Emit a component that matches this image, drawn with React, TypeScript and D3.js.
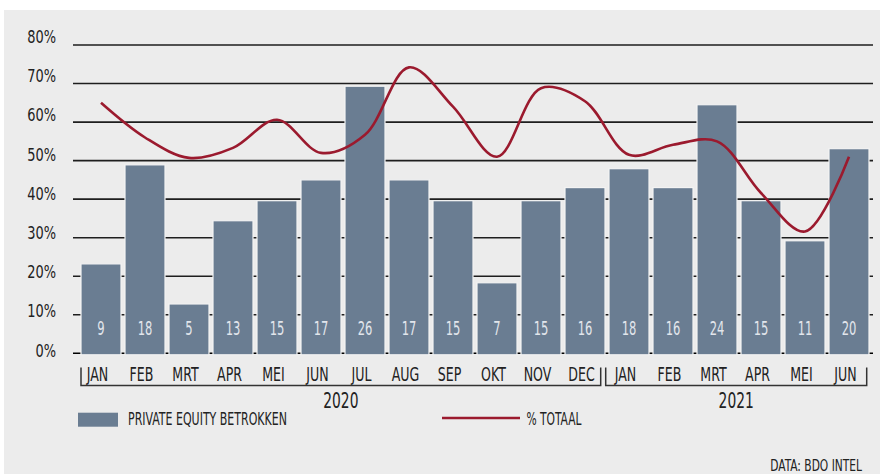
import React from "react";
import * as d3 from "d3";

const months = ["JAN","FEB","MRT","APR","MEI","JUN","JUL","AUG","SEP","OKT","NOV","DEC","JAN","FEB","MRT","APR","MEI","JUN"];
const barPct = [23.2, 48.9, 12.8, 34.4, 39.6, 45, 69.3, 45, 39.6, 18.3, 39.6, 43, 47.9, 43, 64.5, 39.6, 29.2, 53.1];
const counts = [9, 18, 5, 13, 15, 17, 26, 17, 15, 7, 15, 16, 18, 16, 24, 15, 11, 20];
const totalPct = [65, 56, 50.7, 53.3, 60.6, 52, 56.7, 74.2, 64, 51, 68.8, 65.4, 51.5, 54.1, 55, 41.6, 31.6, 51];
const yTicks = [0, 10, 20, 30, 40, 50, 60, 70, 80];
const yearLabels = ["2020", "2021"];
const yearFrom = [0, 12];
const yearTo = [11, 17];
const legendBar = "PRIVATE EQUITY BETROKKEN";
const legendLine = "% TOTAAL";
const source = "DATA: BDO INTEL";

const W = 880, H = 474;
const BAR = "#6a7d92";
const LINE = "#9b1a2e";
const TXT = "#222";
const FONT = "'Liberation Sans Narrow', 'DejaVu Sans Condensed', 'Liberation Sans', sans-serif";

function T({ x, y, size, anchor = "middle", sx = 0.78, fill = TXT, children }: any) {
  return (
    <text
      transform={`translate(${x},${y}) scale(${sx},1)`}
      fontSize={size}
      textAnchor={anchor}
      fill={fill}
      fontFamily={FONT}
    >
      {children}
    </text>
  );
}

export default function App() {
  const idx = months.map((_, i) => i);
  const x = d3.scaleBand<number>().domain(idx).range([79, 871]).paddingInner(1 / 11).paddingOuter(1 / 22);
  const bw = x.bandwidth();
  const y = d3.scaleLinear().domain([0, 80]).range([353.3, 45]);
  const yLab = d3.scaleLinear().domain([0, 80]).range([350, 36.5]);
  const cx = (i: number) => (x(i) as number) + bw / 2;

  const line = d3
    .line<number>()
    .x((_, i) => cx(i))
    .y((d) => y(d))
    .curve(d3.curveCatmullRom.alpha(0.5));

  return (
    <svg width={W} height={H} style={{ position: "absolute", left: 0, top: 0 }}>
      <rect x={0} y={0} width={W} height={H} fill="#fff" />
      <rect x={4} y={10} width={W - 4} height={H - 10} fill="#ececec" />

      {yTicks.map((t) => (
        <g key={t}>
          <line x1={73} x2={873} y1={y(t)} y2={y(t)} stroke={t === 0 ? "#000" : "#1e1e1e"} strokeWidth={1.6} />
          <T x={56} y={yLab(t) + 6.5} size={18} anchor="end" sx={0.8}>{`${t}%`}</T>
        </g>
      ))}

      {barPct.map((v, i) => (
        <rect
          key={i}
          x={x(i) as number}
          y={y(v)}
          width={bw}
          height={y(0) - y(v) + 1.5}
          fill={BAR}
          stroke="#f3f3f3"
          strokeWidth={1.2}
        />
      ))}

      {counts.map((c, i) => (
        <T key={i} x={cx(i)} y={335} size={20} fill="#e2e6ec" sx={0.64}>{c}</T>
      ))}

      <path d={line(totalPct) as string} fill="none" stroke={LINE} strokeWidth={2.6} />

      {months.map((m, i) => (
        <T key={i} x={cx(i) - 3.5} y={381} size={20} sx={0.7}>{m}</T>
      ))}

      {yearLabels.map((lab, k) => {
        const left = k === 0 ? (x(yearFrom[k]) as number) : (x(yearFrom[k]) as number) - 3.3;
        const right = (x(yearTo[k]) as number) + bw - (k === 0 ? 4.3 : 2.3);
        return (
          <g key={lab}>
            <path
              d={`M${left},367.5V385.5H${right}V367.5`}
              fill="none"
              stroke="#333"
              strokeWidth={1.5}
            />
            <T x={(left + right) / 2} y={408} size={22} sx={0.7}>{lab}</T>
          </g>
        );
      })}

      <rect x={78} y={412.7} width={40} height={14} fill={BAR} />
      <T x={128} y={425} size={18} anchor="start" sx={0.68}>{legendBar}</T>
      <line x1={442} x2={520} y1={418} y2={418} stroke={LINE} strokeWidth={2.6} />
      <T x={526.5} y={425} size={18} anchor="start" sx={0.66}>{legendLine}</T>

      <T x={862} y={471} size={16.5} anchor="end" sx={0.72}>{source}</T>
    </svg>
  );
}
